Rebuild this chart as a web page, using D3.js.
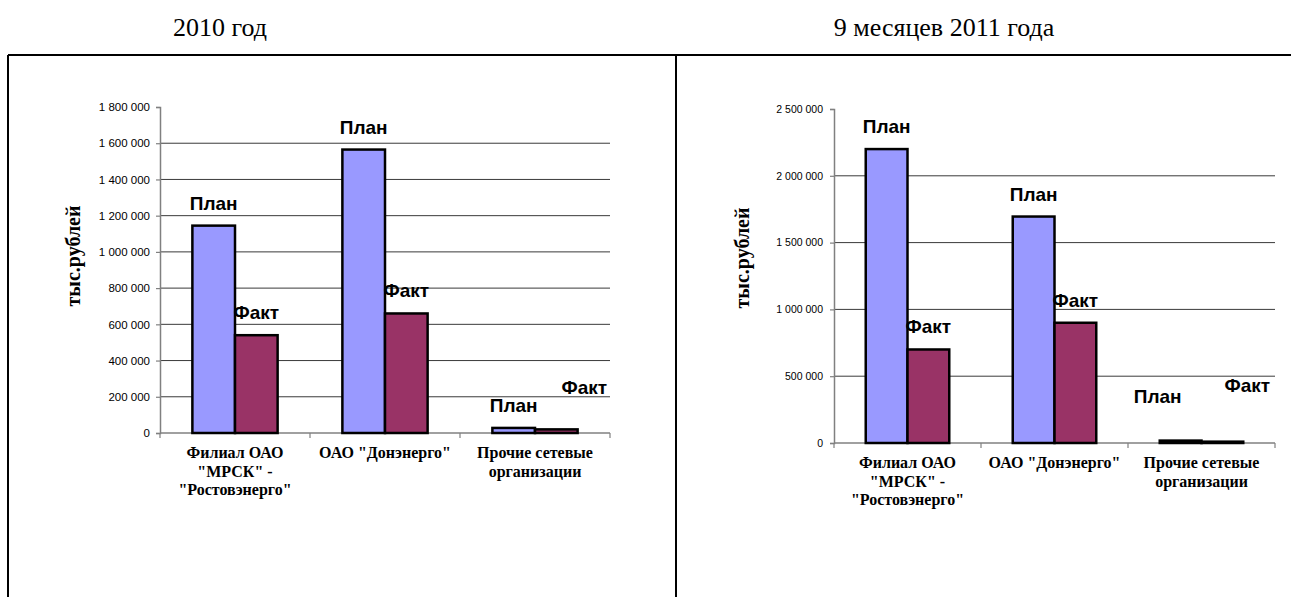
<!DOCTYPE html>
<html>
<head>
<meta charset="utf-8">
<script src="https://cdn.jsdelivr.net/npm/d3@7"></script>
<style>
  body { margin: 0; background: #fff; }
</style>
</head>
<body>
<svg id="chart" width="1291" height="597"></svg>
<script>
const categories = [
  ["Филиал ОАО", "\"МРСК\" -", "\"Ростовэнерго\""],
  ["ОАО \"Донэнерго\""],
  ["Прочие сетевые", "организации"]
];
const series = ["План", "Факт"];

const plan2010 = [1145000, 1565000, 28000];
const fact2010 = [540000, 660000, 20000];
const ticks2010 = [0, 200000, 400000, 600000, 800000, 1000000, 1200000, 1400000, 1600000, 1800000];

const plan2011 = [2200000, 1695000, 18000];
const fact2011 = [700000, 900000, 10000];
const ticks2011 = [0, 500000, 1000000, 1500000, 2000000, 2500000];

const titles = ["2010 год", "9 месяцев 2011 года"];
const axisTitle = "тыс.рублей";

const colors = { "План": "#9999ff", "Факт": "#993366" };

const ru = d3.formatLocale({ decimal: ",", thousands: " ", grouping: [3], currency: ["", ""] });
const fmt = ru.format(",d");

const svg = d3.select("#chart");

// frame around both charts
const frame = svg.append("g").attr("stroke", "#000").attr("stroke-width", 2);
frame.append("line").attr("x1", 8).attr("x2", 1291).attr("y1", 55).attr("y2", 55);
frame.append("line").attr("x1", 8).attr("x2", 8).attr("y1", 55).attr("y2", 597);
frame.append("line").attr("x1", 676).attr("x2", 676).attr("y1", 55).attr("y2", 597);

svg.append("text").attr("x", 220).attr("y", 36).attr("text-anchor", "middle")
  .attr("font-family", "Liberation Serif, Times New Roman, serif").attr("font-size", 26)
  .text(titles[0]);
svg.append("text").attr("x", 944).attr("y", 36).attr("text-anchor", "middle")
  .attr("font-family", "Liberation Serif, Times New Roman, serif").attr("font-size", 26)
  .text(titles[1]);

function drawChart(cfg) {
  const g = svg.append("g");
  const max = d3.max(cfg.ticks);

  const y = d3.scaleLinear().domain([0, max]).range([cfg.y0, cfg.yTop]);
  const x = d3.scaleBand().domain(d3.range(categories.length)).range([cfg.x0, cfg.x1]);
  const xs = d3.scaleBand().domain(series).range([0, x.bandwidth()])
    .paddingOuter(0.76).paddingInner(0);

  // gridlines (no line at 0 or at the top value)
  g.append("g").selectAll("line")
    .data(cfg.ticks.filter(t => t > 0 && t < max))
    .join("line")
    .attr("x1", cfg.x0).attr("x2", cfg.x1)
    .attr("y1", d => y(d)).attr("y2", d => y(d))
    .attr("stroke", "#3a3a3a").attr("stroke-width", 1);

  // y axis
  const yAxis = g.append("g")
    .attr("transform", `translate(${cfg.x0},0)`)
    .call(d3.axisLeft(y).tickValues(cfg.ticks).tickSize(4).tickPadding(cfg.pad).tickFormat(fmt));
  yAxis.select(".domain").attr("stroke", "#808080").attr("stroke-width", 1.5);
  yAxis.selectAll(".tick line").attr("stroke", "#808080").attr("stroke-width", 1.2);
  yAxis.selectAll(".tick text")
    .attr("font-family", "Liberation Sans, Arial, sans-serif")
    .attr("font-size", cfg.tickFont).attr("fill", "#000");

  // x axis
  const xa = g.append("g");
  xa.append("line").attr("x1", cfg.x0).attr("x2", cfg.x1)
    .attr("y1", cfg.y0).attr("y2", cfg.y0)
    .attr("stroke", "#808080").attr("stroke-width", 1.5);
  const bounds = categories.map((c, i) => x(i)).concat([cfg.x1]);
  xa.selectAll(".xt").data(bounds).join("line")
    .attr("x1", d => d).attr("x2", d => d)
    .attr("y1", cfg.y0).attr("y2", cfg.y0 + 5)
    .attr("stroke", "#808080").attr("stroke-width", 1.2);

  // category labels
  xa.selectAll(".cat").data(categories).join("text")
    .attr("text-anchor", "middle")
    .attr("font-family", "Liberation Serif, Times New Roman, serif")
    .attr("font-weight", "bold").attr("font-size", 16)
    .each(function (lines, i) {
      d3.select(this).selectAll("tspan").data(lines).join("tspan")
        .attr("x", x(i) + x.bandwidth() / 2)
        .attr("y", (d, k) => cfg.y0 + 25 + k * 18.5)
        .text(d => d);
    });

  // bars
  const rows = [];
  categories.forEach((c, i) => {
    rows.push({ i, s: "План", v: cfg.plan[i] });
    rows.push({ i, s: "Факт", v: cfg.fact[i] });
  });

  g.append("g").selectAll("rect").data(rows).join("rect")
    .attr("x", d => x(d.i) + xs(d.s))
    .attr("y", d => y(d.v))
    .attr("width", xs.bandwidth())
    .attr("height", d => cfg.y0 - y(d.v))
    .attr("fill", d => colors[d.s])
    .attr("stroke", "#000").attr("stroke-width", 2.5);

  // data labels (series names)
  g.append("g").selectAll("text").data(rows).join("text")
    .attr("x", d => x(d.i) + xs(d.s) + xs.bandwidth() / 2 + ((cfg.nudge[d.i + d.s] || [0, 0])[0]))
    .attr("y", d => y(d.v) - 16 + ((cfg.nudge[d.i + d.s] || [0, 0])[1]))
    .attr("text-anchor", "middle")
    .attr("font-family", "Liberation Sans, Arial, sans-serif")
    .attr("font-weight", "bold").attr("font-size", 19)
    .text(d => d.s);

  // y axis title
  g.append("text")
    .attr("transform", `translate(${cfg.titleX},${cfg.titleY}) rotate(-90)`)
    .attr("text-anchor", "middle").attr("dy", "0.35em")
    .attr("font-family", "Liberation Serif, Times New Roman, serif")
    .attr("font-weight", "bold").attr("font-size", 20)
    .text(axisTitle);
}

drawChart({
  plan: plan2010, fact: fact2010, ticks: ticks2010,
  x0: 160, x1: 610, y0: 433, yTop: 107,
  tickFont: 11.5, pad: 6, titleX: 73, titleY: 256,
  nudge: { "2Факт": [28, -19] }
});

drawChart({
  plan: plan2011, fact: fact2011, ticks: ticks2011,
  x0: 834, x1: 1275, y0: 443, yTop: 109,
  tickFont: 10.5, pad: 7, titleX: 742, titleY: 258,
  nudge: { "2План": [-23, -22], "2Факт": [25, -34] }
});
</script>
</body>
</html>
